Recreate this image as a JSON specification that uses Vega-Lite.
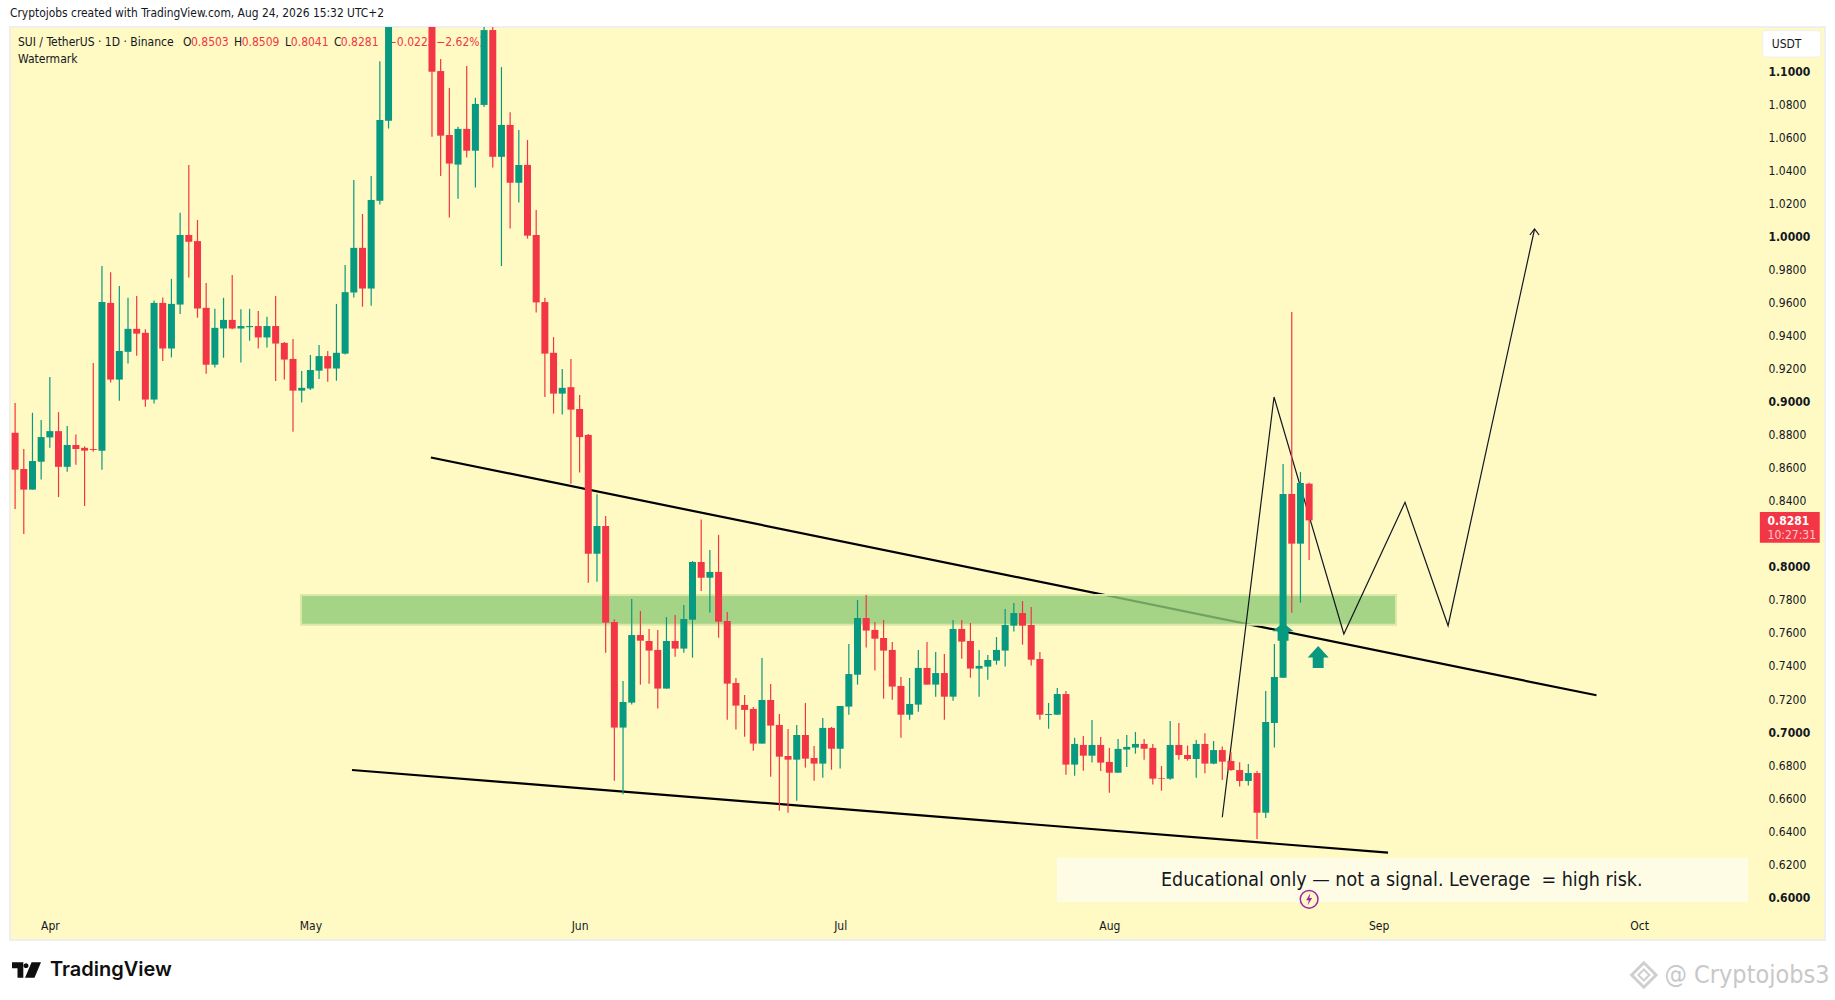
{
  "$schema": "https://vega.github.io/schema/vega-lite/v6.json",
  "width": 1815,
  "height": 913,
  "padding": {"left": 10, "top": 27, "right": 10, "bottom": 60},
  "autosize": {"type": "none"},
  "background": "#ffffff",
  "view": {"fill": "#FFF9C4", "stroke": "#EFEFEF", "strokeWidth": 2},
  "config": {"font": "DejaVu Sans Condensed", "text": {"font": "DejaVu Sans Condensed"}},
  "title": {
    "text": "Cryptojobs created with TradingView.com, Aug 24, 2026 15:32 UTC+2",
    "anchor": "start",
    "frame": "group",
    "fontSize": 11.9,
    "fontWeight": "normal",
    "color": "#131722",
    "offset": 7
  },
  "datasets": {
    "candles": [
      {"date":"2026-03-28","open":0.8811,"high":0.8992,"low":0.8350,"close":0.8588},
      {"date":"2026-03-29","open":0.8592,"high":0.8713,"low":0.8199,"close":0.8467},
      {"date":"2026-03-30","open":0.8467,"high":0.8932,"low":0.8467,"close":0.8640},
      {"date":"2026-03-31","open":0.8636,"high":0.8888,"low":0.8528,"close":0.8785},
      {"date":"2026-04-01","open":0.8783,"high":0.9148,"low":0.8720,"close":0.8821},
      {"date":"2026-04-02","open":0.8821,"high":0.8936,"low":0.8422,"close":0.8605},
      {"date":"2026-04-03","open":0.8605,"high":0.8852,"low":0.8575,"close":0.8737},
      {"date":"2026-04-04","open":0.8737,"high":0.8800,"low":0.8618,"close":0.8713},
      {"date":"2026-04-05","open":0.8720,"high":0.8729,"low":0.8368,"close":0.8703},
      {"date":"2026-04-06","open":0.8713,"high":0.9234,"low":0.8696,"close":0.8707},
      {"date":"2026-04-07","open":0.8703,"high":0.9820,"low":0.8588,"close":0.9602},
      {"date":"2026-04-08","open":0.9597,"high":0.9783,"low":0.9115,"close":0.9133},
      {"date":"2026-04-09","open":0.9133,"high":0.9699,"low":0.9005,"close":0.9306},
      {"date":"2026-04-10","open":0.9301,"high":0.9628,"low":0.9230,"close":0.9440},
      {"date":"2026-04-11","open":0.9440,"high":0.9638,"low":0.9277,"close":0.9411},
      {"date":"2026-04-12","open":0.9416,"high":0.9437,"low":0.8968,"close":0.9012},
      {"date":"2026-04-13","open":0.9012,"high":0.9612,"low":0.8988,"close":0.9597},
      {"date":"2026-04-14","open":0.9597,"high":0.9630,"low":0.9245,"close":0.9321},
      {"date":"2026-04-15","open":0.9321,"high":0.9742,"low":0.9267,"close":0.9591},
      {"date":"2026-04-16","open":0.9587,"high":1.0142,"low":0.9530,"close":1.0008},
      {"date":"2026-04-17","open":1.0008,"high":1.0432,"low":0.9751,"close":0.9967},
      {"date":"2026-04-18","open":0.9971,"high":1.0099,"low":0.9507,"close":0.9563},
      {"date":"2026-04-19","open":0.9567,"high":0.9718,"low":0.9169,"close":0.9223},
      {"date":"2026-04-20","open":0.9223,"high":0.9561,"low":0.9206,"close":0.9446},
      {"date":"2026-04-21","open":0.9442,"high":0.9628,"low":0.9265,"close":0.9494},
      {"date":"2026-04-22","open":0.9494,"high":0.9766,"low":0.9437,"close":0.9442},
      {"date":"2026-04-23","open":0.9442,"high":0.9558,"low":0.9236,"close":0.9457},
      {"date":"2026-04-24","open":0.9450,"high":0.9561,"low":0.9368,"close":0.9457},
      {"date":"2026-04-25","open":0.9457,"high":0.9548,"low":0.9321,"close":0.9388},
      {"date":"2026-04-26","open":0.9388,"high":0.9513,"low":0.9327,"close":0.9457},
      {"date":"2026-04-27","open":0.9457,"high":0.9638,"low":0.9124,"close":0.9351},
      {"date":"2026-04-28","open":0.9355,"high":0.9360,"low":0.9133,"close":0.9254},
      {"date":"2026-04-29","open":0.9258,"high":0.9379,"low":0.8817,"close":0.9066},
      {"date":"2026-04-30","open":0.9066,"high":0.9185,"low":0.8994,"close":0.9083},
      {"date":"2026-05-01","open":0.9079,"high":0.9282,"low":0.9070,"close":0.9191},
      {"date":"2026-05-02","open":0.9187,"high":0.9342,"low":0.9137,"close":0.9275},
      {"date":"2026-05-03","open":0.9275,"high":0.9306,"low":0.9120,"close":0.9200},
      {"date":"2026-05-04","open":0.9200,"high":0.9591,"low":0.9126,"close":0.9295},
      {"date":"2026-05-05","open":0.9290,"high":0.9826,"low":0.9284,"close":0.9662},
      {"date":"2026-05-06","open":0.9660,"high":1.0341,"low":0.9630,"close":0.9930},
      {"date":"2026-05-07","open":0.9930,"high":1.0135,"low":0.9574,"close":0.9684},
      {"date":"2026-05-08","open":0.9684,"high":1.0365,"low":0.9580,"close":1.0220},
      {"date":"2026-05-09","open":1.0215,"high":1.1060,"low":1.0192,"close":1.0704},
      {"date":"2026-05-10","open":1.0700,"high":1.1750,"low":1.0652,"close":1.1600},
      {"date":"2026-05-15","open":1.1600,"high":1.1700,"low":1.0602,"close":1.0996},
      {"date":"2026-05-16","open":1.1000,"high":1.1073,"low":1.0365,"close":1.0609},
      {"date":"2026-05-17","open":1.0613,"high":1.0898,"low":1.0114,"close":1.0440},
      {"date":"2026-05-18","open":1.0434,"high":1.0663,"low":1.0228,"close":1.0650},
      {"date":"2026-05-19","open":1.0650,"high":1.1030,"low":1.0477,"close":1.0518},
      {"date":"2026-05-20","open":1.0518,"high":1.0838,"low":1.0295,"close":1.0801},
      {"date":"2026-05-21","open":1.0795,"high":1.1350,"low":1.0782,"close":1.1248},
      {"date":"2026-05-22","open":1.1248,"high":1.1300,"low":1.0416,"close":1.0481},
      {"date":"2026-05-23","open":1.0481,"high":1.1024,"low":0.9820,"close":1.0674},
      {"date":"2026-05-24","open":1.0674,"high":1.0751,"low":1.0047,"close":1.0324},
      {"date":"2026-05-25","open":1.0324,"high":1.0643,"low":1.0205,"close":1.0432},
      {"date":"2026-05-26","open":1.0432,"high":1.0583,"low":0.9986,"close":1.0004},
      {"date":"2026-05-27","open":1.0008,"high":1.0159,"low":0.9539,"close":0.9600},
      {"date":"2026-05-28","open":0.9602,"high":0.9628,"low":0.9027,"close":0.9290},
      {"date":"2026-05-29","open":0.9295,"high":0.9390,"low":0.8927,"close":0.9048},
      {"date":"2026-05-30","open":0.9048,"high":0.9197,"low":0.8921,"close":0.9083},
      {"date":"2026-05-31","open":0.9087,"high":0.9258,"low":0.8502,"close":0.8951},
      {"date":"2026-06-01","open":0.8955,"high":0.9040,"low":0.8571,"close":0.8785},
      {"date":"2026-06-02","open":0.8798,"high":0.8804,"low":0.7904,"close":0.8079},
      {"date":"2026-06-03","open":0.8079,"high":0.8439,"low":0.7910,"close":0.8247},
      {"date":"2026-06-04","open":0.8247,"high":0.8308,"low":0.7480,"close":0.7662},
      {"date":"2026-06-05","open":0.7666,"high":0.7682,"low":0.6706,"close":0.7027},
      {"date":"2026-06-06","open":0.7027,"high":0.7309,"low":0.6623,"close":0.7182},
      {"date":"2026-06-07","open":0.7178,"high":0.7805,"low":0.7166,"close":0.7587},
      {"date":"2026-06-08","open":0.7587,"high":0.7733,"low":0.7287,"close":0.7553},
      {"date":"2026-06-09","open":0.7551,"high":0.7624,"low":0.7293,"close":0.7493},
      {"date":"2026-06-10","open":0.7497,"high":0.7618,"low":0.7142,"close":0.7263},
      {"date":"2026-06-11","open":0.7263,"high":0.7696,"low":0.7263,"close":0.7551},
      {"date":"2026-06-12","open":0.7551,"high":0.7708,"low":0.7456,"close":0.7505},
      {"date":"2026-06-13","open":0.7505,"high":0.7769,"low":0.7480,"close":0.7684},
      {"date":"2026-06-14","open":0.7680,"high":0.8035,"low":0.7450,"close":0.8029},
      {"date":"2026-06-15","open":0.8029,"high":0.8287,"low":0.7854,"close":0.7934},
      {"date":"2026-06-16","open":0.7934,"high":0.8102,"low":0.7723,"close":0.7969},
      {"date":"2026-06-17","open":0.7969,"high":0.8193,"low":0.7571,"close":0.7668},
      {"date":"2026-06-18","open":0.7672,"high":0.7726,"low":0.7075,"close":0.7293},
      {"date":"2026-06-19","open":0.7297,"high":0.7327,"low":0.7015,"close":0.7160},
      {"date":"2026-06-20","open":0.7164,"high":0.7224,"low":0.6972,"close":0.7134},
      {"date":"2026-06-21","open":0.7140,"high":0.7152,"low":0.6887,"close":0.6930},
      {"date":"2026-06-22","open":0.6930,"high":0.7448,"low":0.6930,"close":0.7194},
      {"date":"2026-06-23","open":0.7194,"high":0.7291,"low":0.6730,"close":0.7039},
      {"date":"2026-06-24","open":0.7043,"high":0.7109,"low":0.6524,"close":0.6851},
      {"date":"2026-06-25","open":0.6855,"high":0.7019,"low":0.6512,"close":0.6833},
      {"date":"2026-06-26","open":0.6833,"high":0.7043,"low":0.6585,"close":0.6982},
      {"date":"2026-06-27","open":0.6982,"high":0.7176,"low":0.6785,"close":0.6839},
      {"date":"2026-06-28","open":0.6843,"high":0.6916,"low":0.6706,"close":0.6809},
      {"date":"2026-06-29","open":0.6809,"high":0.7085,"low":0.6724,"close":0.7025},
      {"date":"2026-06-30","open":0.7025,"high":0.7031,"low":0.6772,"close":0.6899},
      {"date":"2026-07-01","open":0.6899,"high":0.7158,"low":0.6779,"close":0.7158},
      {"date":"2026-07-02","open":0.7154,"high":0.7533,"low":0.7105,"close":0.7351},
      {"date":"2026-07-03","open":0.7347,"high":0.7799,"low":0.7287,"close":0.7690},
      {"date":"2026-07-04","open":0.7690,"high":0.7829,"low":0.7511,"close":0.7614},
      {"date":"2026-07-05","open":0.7618,"high":0.7666,"low":0.7372,"close":0.7565},
      {"date":"2026-07-06","open":0.7569,"high":0.7678,"low":0.7202,"close":0.7493},
      {"date":"2026-07-07","open":0.7497,"high":0.7545,"low":0.7196,"close":0.7275},
      {"date":"2026-07-08","open":0.7279,"high":0.7333,"low":0.6966,"close":0.7105},
      {"date":"2026-07-09","open":0.7105,"high":0.7327,"low":0.7075,"close":0.7170},
      {"date":"2026-07-10","open":0.7166,"high":0.7497,"low":0.7123,"close":0.7388},
      {"date":"2026-07-11","open":0.7388,"high":0.7545,"low":0.7287,"close":0.7287},
      {"date":"2026-07-12","open":0.7287,"high":0.7485,"low":0.7214,"close":0.7357},
      {"date":"2026-07-13","open":0.7357,"high":0.7472,"low":0.7075,"close":0.7214},
      {"date":"2026-07-14","open":0.7214,"high":0.7678,"low":0.7190,"close":0.7624},
      {"date":"2026-07-15","open":0.7624,"high":0.7678,"low":0.7444,"close":0.7547},
      {"date":"2026-07-16","open":0.7551,"high":0.7660,"low":0.7329,"close":0.7384},
      {"date":"2026-07-17","open":0.7384,"high":0.7497,"low":0.7214,"close":0.7400},
      {"date":"2026-07-18","open":0.7396,"high":0.7466,"low":0.7317,"close":0.7436},
      {"date":"2026-07-19","open":0.7432,"high":0.7575,"low":0.7408,"close":0.7497},
      {"date":"2026-07-20","open":0.7493,"high":0.7745,"low":0.7396,"close":0.7648},
      {"date":"2026-07-21","open":0.7644,"high":0.7781,"low":0.7608,"close":0.7720},
      {"date":"2026-07-22","open":0.7720,"high":0.7793,"low":0.7529,"close":0.7644},
      {"date":"2026-07-23","open":0.7648,"high":0.7757,"low":0.7402,"close":0.7438},
      {"date":"2026-07-24","open":0.7442,"high":0.7485,"low":0.7075,"close":0.7105},
      {"date":"2026-07-25","open":0.7103,"high":0.7176,"low":0.7020,"close":0.7109},
      {"date":"2026-07-26","open":0.7105,"high":0.7267,"low":0.7103,"close":0.7230},
      {"date":"2026-07-27","open":0.7230,"high":0.7249,"low":0.6742,"close":0.6803},
      {"date":"2026-07-28","open":0.6803,"high":0.6966,"low":0.6736,"close":0.6928},
      {"date":"2026-07-29","open":0.6922,"high":0.6976,"low":0.6766,"close":0.6857},
      {"date":"2026-07-30","open":0.6857,"high":0.7073,"low":0.6815,"close":0.6922},
      {"date":"2026-07-31","open":0.6922,"high":0.6970,"low":0.6764,"close":0.6815},
      {"date":"2026-08-01","open":0.6819,"high":0.6904,"low":0.6633,"close":0.6754},
      {"date":"2026-08-02","open":0.6754,"high":0.6958,"low":0.6754,"close":0.6898},
      {"date":"2026-08-03","open":0.6894,"high":0.6982,"low":0.6789,"close":0.6910},
      {"date":"2026-08-04","open":0.6906,"high":0.7000,"low":0.6869,"close":0.6928},
      {"date":"2026-08-05","open":0.6928,"high":0.6958,"low":0.6833,"close":0.6899},
      {"date":"2026-08-06","open":0.6904,"high":0.6928,"low":0.6682,"close":0.6718},
      {"date":"2026-08-07","open":0.6722,"high":0.6795,"low":0.6645,"close":0.6718},
      {"date":"2026-08-08","open":0.6718,"high":0.7067,"low":0.6712,"close":0.6922},
      {"date":"2026-08-09","open":0.6922,"high":0.7055,"low":0.6833,"close":0.6861},
      {"date":"2026-08-10","open":0.6861,"high":0.6918,"low":0.6827,"close":0.6837},
      {"date":"2026-08-11","open":0.6837,"high":0.6952,"low":0.6724,"close":0.6928},
      {"date":"2026-08-12","open":0.6928,"high":0.6992,"low":0.6750,"close":0.6809},
      {"date":"2026-08-13","open":0.6809,"high":0.6946,"low":0.6805,"close":0.6891},
      {"date":"2026-08-14","open":0.6891,"high":0.6912,"low":0.6710,"close":0.6821},
      {"date":"2026-08-15","open":0.6825,"high":0.6881,"low":0.6766,"close":0.6770},
      {"date":"2026-08-16","open":0.6770,"high":0.6817,"low":0.6670,"close":0.6704},
      {"date":"2026-08-17","open":0.6704,"high":0.6807,"low":0.6676,"close":0.6752},
      {"date":"2026-08-18","open":0.6752,"high":0.6764,"low":0.6353,"close":0.6512},
      {"date":"2026-08-19","open":0.6512,"high":0.7249,"low":0.6480,"close":0.7061},
      {"date":"2026-08-20","open":0.7055,"high":0.7533,"low":0.6906,"close":0.7333},
      {"date":"2026-08-21","open":0.7329,"high":0.8622,"low":0.7329,"close":0.8441},
      {"date":"2026-08-22","open":0.8441,"high":0.9542,"low":0.7722,"close":0.8140},
      {"date":"2026-08-23","open":0.8140,"high":0.8574,"low":0.7783,"close":0.8507},
      {"date":"2026-08-24","open":0.8503,"high":0.8509,"low":0.8041,"close":0.8281}
    ]
  },
  "encoding": {
    "x": {
      "field": "date",
      "type": "temporal",
      "title": null,
      "scale": {"type": "utc", "nice": false, "padding": 0, "domain": ["2026-03-27T09:54:00Z", "2026-10-22T09:36:00Z"]},
      "axis": {
        "values": ["2026-04-01", "2026-05-01", "2026-06-01", "2026-07-01", "2026-08-01", "2026-09-01", "2026-10-01"],
        "format": "%b",
        "orient": "bottom",
        "offset": -20,
        "domain": false,
        "ticks": false,
        "grid": false,
        "labelPadding": 0,
        "labelFontSize": 12,
        "labelColor": "#131722",
        "labelFlush": false,
        "labelOverlap": false
      }
    },
    "y": {
      "field": "price",
      "type": "quantitative",
      "title": null,
      "scale": {"domain": [0.57416, 1.12666], "nice": false, "zero": false},
      "axis": {
        "orient": "right",
        "offset": -57,
        "values": [0.6, 0.62, 0.64, 0.66, 0.68, 0.7, 0.72, 0.74, 0.76, 0.78, 0.8, 0.84, 0.86, 0.88, 0.9, 0.92, 0.94, 0.96, 0.98, 1, 1.02, 1.04, 1.06, 1.08, 1.1],
        "format": ".4f",
        "domain": false,
        "ticks": false,
        "grid": false,
        "labelAlign": "left",
        "labelPadding": 0,
        "labelFontSize": 12,
        "labelColor": "#131722",
        "labelOverlap": false,
        "labelFontWeight": {"condition": {"test": "abs(datum.value * 10 - round(datum.value * 10)) < 0.001", "value": "bold"}, "value": "normal"}
      }
    }
  },
  "layer": [
    {
      "data": {"values": [
        {"label": "SUI / TetherUS · 1D · Binance", "date": "2026-03-28T08:00:00Z", "price": 1.11758},
        {"label": "O", "date": "2026-04-16T08:00:00Z", "price": 1.11758},
        {"label": "H", "date": "2026-04-22T05:00:00Z", "price": 1.11758},
        {"label": "L", "date": "2026-04-28T02:00:00Z", "price": 1.11758},
        {"label": "C", "date": "2026-05-03T17:00:00Z", "price": 1.11758},
        {"label": "Watermark", "date": "2026-03-28T08:00:00Z", "price": 1.1073}
      ]},
      "mark": {"type": "text", "align": "left", "baseline": "middle", "fontSize": 12, "color": "#131722"},
      "encoding": {"text": {"field": "label"}}
    },
    {
      "data": {"values": [
        {"label": "0.8503", "date": "2026-04-17T06:00:00Z", "price": 1.11758},
        {"label": "0.8509", "date": "2026-04-23T02:00:00Z", "price": 1.11758},
        {"label": "0.8041", "date": "2026-04-28T18:00:00Z", "price": 1.11758},
        {"label": "0.8281", "date": "2026-05-04T12:00:00Z", "price": 1.11758},
        {"label": "−0.0223", "date": "2026-05-09T22:00:00Z", "price": 1.11758},
        {"label": "(−2.62%)", "date": "2026-05-15T00:00:00Z", "price": 1.11758}
      ]},
      "mark": {"type": "text", "align": "left", "baseline": "middle", "fontSize": 12, "color": "#F23645"},
      "encoding": {"text": {"field": "label"}}
    },
    {
      "data": {"values": [
        {"line": "upper", "date": "2026-05-14T21:00:00Z", "price": 0.86615},
        {"line": "upper", "date": "2026-09-26T02:00:00Z", "price": 0.72225},
        {"line": "lower", "date": "2026-05-05T19:00:00Z", "price": 0.67704},
        {"line": "lower", "date": "2026-09-02T02:00:00Z", "price": 0.627}
      ]},
      "mark": {"type": "line", "color": "#000000", "strokeWidth": 2.2},
      "encoding": {"detail": {"field": "line"}}
    },
    {
      "data": {"values": [
        {"date": "2026-04-29T22:00:00Z", "date2": "2026-09-03T00:00:00Z", "price": 0.78294, "price2": 0.76496}
      ]},
      "mark": {"type": "rect", "fill": "#8FCB78", "fillOpacity": 0.8, "stroke": "#DCE8A6", "strokeWidth": 2},
      "encoding": {"x2": {"field": "date2"}, "y2": {"field": "price2"}}
    },
    {
      "data": {"values": [
        {"line": "path", "date": "2026-08-14T00:00:00Z", "price": 0.64842},
        {"line": "path", "date": "2026-08-19T23:00:00Z", "price": 0.90276},
        {"line": "path", "date": "2026-08-28T00:00:00Z", "price": 0.75934},
        {"line": "path", "date": "2026-09-04T01:00:00Z", "price": 0.83904},
        {"line": "path", "date": "2026-09-09T00:00:00Z", "price": 0.76436},
        {"line": "path", "date": "2026-09-18T23:00:00Z", "price": 1.00442},
        {"line": "head", "date": "2026-09-18T10:00:00Z", "price": 1.00079},
        {"line": "head", "date": "2026-09-18T23:00:00Z", "price": 1.00442},
        {"line": "head", "date": "2026-09-19T11:30:00Z", "price": 1.00079}
      ]},
      "mark": {"type": "line", "color": "#131722", "strokeWidth": 1.2},
      "encoding": {"detail": {"field": "line"}}
    },
    {
      "data": {"name": "candles"},
      "mark": {"type": "rule", "strokeWidth": 1.2, "clip": true},
      "encoding": {
        "y": {"field": "low", "type": "quantitative", "title": null},
        "y2": {"field": "high"},
        "color": {"condition": {"test": "datum.close >= datum.open", "value": "#089981"}, "value": "#F23645"}
      }
    },
    {
      "data": {"name": "candles"},
      "mark": {"type": "bar", "size": 7, "clip": true},
      "encoding": {
        "y": {"field": "open", "type": "quantitative", "title": null},
        "y2": {"field": "close"},
        "color": {"condition": {"test": "datum.close >= datum.open", "value": "#089981"}, "value": "#F23645"}
      }
    },
    {
      "data": {"values": [{"date": "2026-08-21T00:00:00Z", "price": 0.76073}]},
      "mark": {"type": "point", "filled": true, "opacity": 1, "color": "#089981", "size": 441, "shape": "M0,-0.86 L1,-0.04 L0.52,-0.04 L0.52,0.86 L-0.52,0.86 L-0.52,-0.04 L-1,-0.04 Z"}
    },
    {
      "data": {"values": [{"date": "2026-08-25T01:00:00Z", "price": 0.74542}]},
      "mark": {"type": "point", "filled": true, "opacity": 1, "color": "#089981", "size": 441, "shape": "M0,-1.05 L1,0.05 L0.52,0.05 L0.52,1.05 L-0.52,1.05 L-0.52,0.05 L-1,0.05 Z"}
    },
    {
      "data": {"values": [
        {"date": "2026-07-25T23:00:00Z", "date2": "2026-10-13T14:00:00Z", "price": 0.62397, "price2": 0.59716}
      ]},
      "mark": {"type": "rect", "fill": "#FFFCE6"},
      "encoding": {"x2": {"field": "date2"}, "y2": {"field": "price2"}}
    },
    {
      "data": {"values": [
        {"label": "Educational only — not a signal. Leverage\u00a0 = high risk.", "date": "2026-09-03T16:00:00Z", "price": 0.61047}
      ]},
      "mark": {"type": "text", "align": "center", "baseline": "middle", "fontSize": 19.5, "color": "#131722"},
      "encoding": {"text": {"field": "label"}}
    },
    {
      "data": {"values": [{"date": "2026-08-24T00:00:00Z", "price": 0.5988}]},
      "mark": {"type": "point", "shape": "circle", "size": 314, "fill": "#FFF9C4", "opacity": 1, "stroke": "#9C27B0", "strokeWidth": 1.5}
    },
    {
      "data": {"values": [{"date": "2026-08-24T00:00:00Z", "price": 0.5988}]},
      "mark": {"type": "point", "filled": true, "opacity": 1, "color": "#9C27B0", "size": 144, "shape": "M0.2,-1 L-0.5,0.15 L-0.05,0.15 L-0.25,1 L0.5,-0.2 L0.05,-0.2 Z"}
    },
    {
      "data": {"values": [
        {"date": "2026-10-14T21:30:00Z", "date2": "2026-10-21T19:00:00Z", "price": 0.83317, "price2": 0.81459}
      ]},
      "mark": {"type": "rect", "fill": "#F23645"},
      "encoding": {"x2": {"field": "date2"}, "y2": {"field": "price2"}}
    },
    {
      "data": {"values": [{"label": "0.8281", "date": "2026-10-15T19:00:00Z", "price": 0.8279}]},
      "mark": {"type": "text", "align": "left", "baseline": "middle", "fontSize": 12, "fontWeight": "bold", "color": "#ffffff"},
      "encoding": {"text": {"field": "label"}}
    },
    {
      "data": {"values": [{"label": "10:27:31", "date": "2026-10-15T19:00:00Z", "price": 0.81943}]},
      "mark": {"type": "text", "align": "left", "baseline": "middle", "fontSize": 12, "color": "#FFC9CD"},
      "encoding": {"text": {"field": "label"}}
    },
    {
      "data": {"values": [
        {"date": "2026-10-15T05:30:00Z", "date2": "2026-10-21T22:00:00Z", "price": 1.12442, "price2": 1.10851}
      ]},
      "mark": {"type": "rect", "fill": "#ffffff", "stroke": "#EFEFEF", "cornerRadius": 3},
      "encoding": {"x2": {"field": "date2"}, "y2": {"field": "price2"}}
    },
    {
      "data": {"values": [{"label": "USDT", "date": "2026-10-16T06:30:00Z", "price": 1.11637}]},
      "mark": {"type": "text", "align": "left", "baseline": "middle", "fontSize": 12, "color": "#131722"},
      "encoding": {"text": {"field": "label"}}
    },
    {
      "data": {"values": [{"date": "2026-03-29T07:30:00Z", "price": 0.55601}]},
      "mark": {"type": "point", "filled": true, "opacity": 1, "color": "#0F0F0F", "size": 841, "shape": "M-1,-0.54 H-0.22 V0.54 H-0.62 V-0.12 H-1 Z M-0.2,-0.3 A0.17,0.17 0 1 0 0.14,-0.3 A0.17,0.17 0 1 0 -0.2,-0.3 Z M0.35,-0.54 H1 L0.55,0.54 H-0.1 Z"}
    },
    {
      "data": {"values": [{"label": "TradingView", "date": "2026-04-01T00:30:00Z", "price": 0.55601}]},
      "mark": {"type": "text", "align": "left", "baseline": "middle", "font": "Inter", "fontSize": 20, "fontWeight": 600, "color": "#0F0F0F"},
      "encoding": {"text": {"field": "label"}}
    },
    {
      "data": {"values": [{"date": "2026-10-01T13:00:00Z", "price": 0.55298}]},
      "mark": {"type": "point", "shape": "diamond", "size": 600, "filled": false, "opacity": 1, "stroke": "#CFCFCF", "strokeWidth": 3}
    },
    {
      "data": {"values": [{"date": "2026-10-01T13:00:00Z", "price": 0.55298}]},
      "mark": {"type": "point", "shape": "diamond", "size": 120, "filled": false, "opacity": 1, "stroke": "#CFCFCF", "strokeWidth": 2}
    },
    {
      "data": {"values": [{"label": "@ Cryptojobs3", "date": "2026-10-03T22:00:00Z", "price": 0.55298}]},
      "mark": {"type": "text", "align": "left", "baseline": "middle", "fontSize": 25, "color": "#C8C8C8"},
      "encoding": {"text": {"field": "label"}}
    }
  ]
}
